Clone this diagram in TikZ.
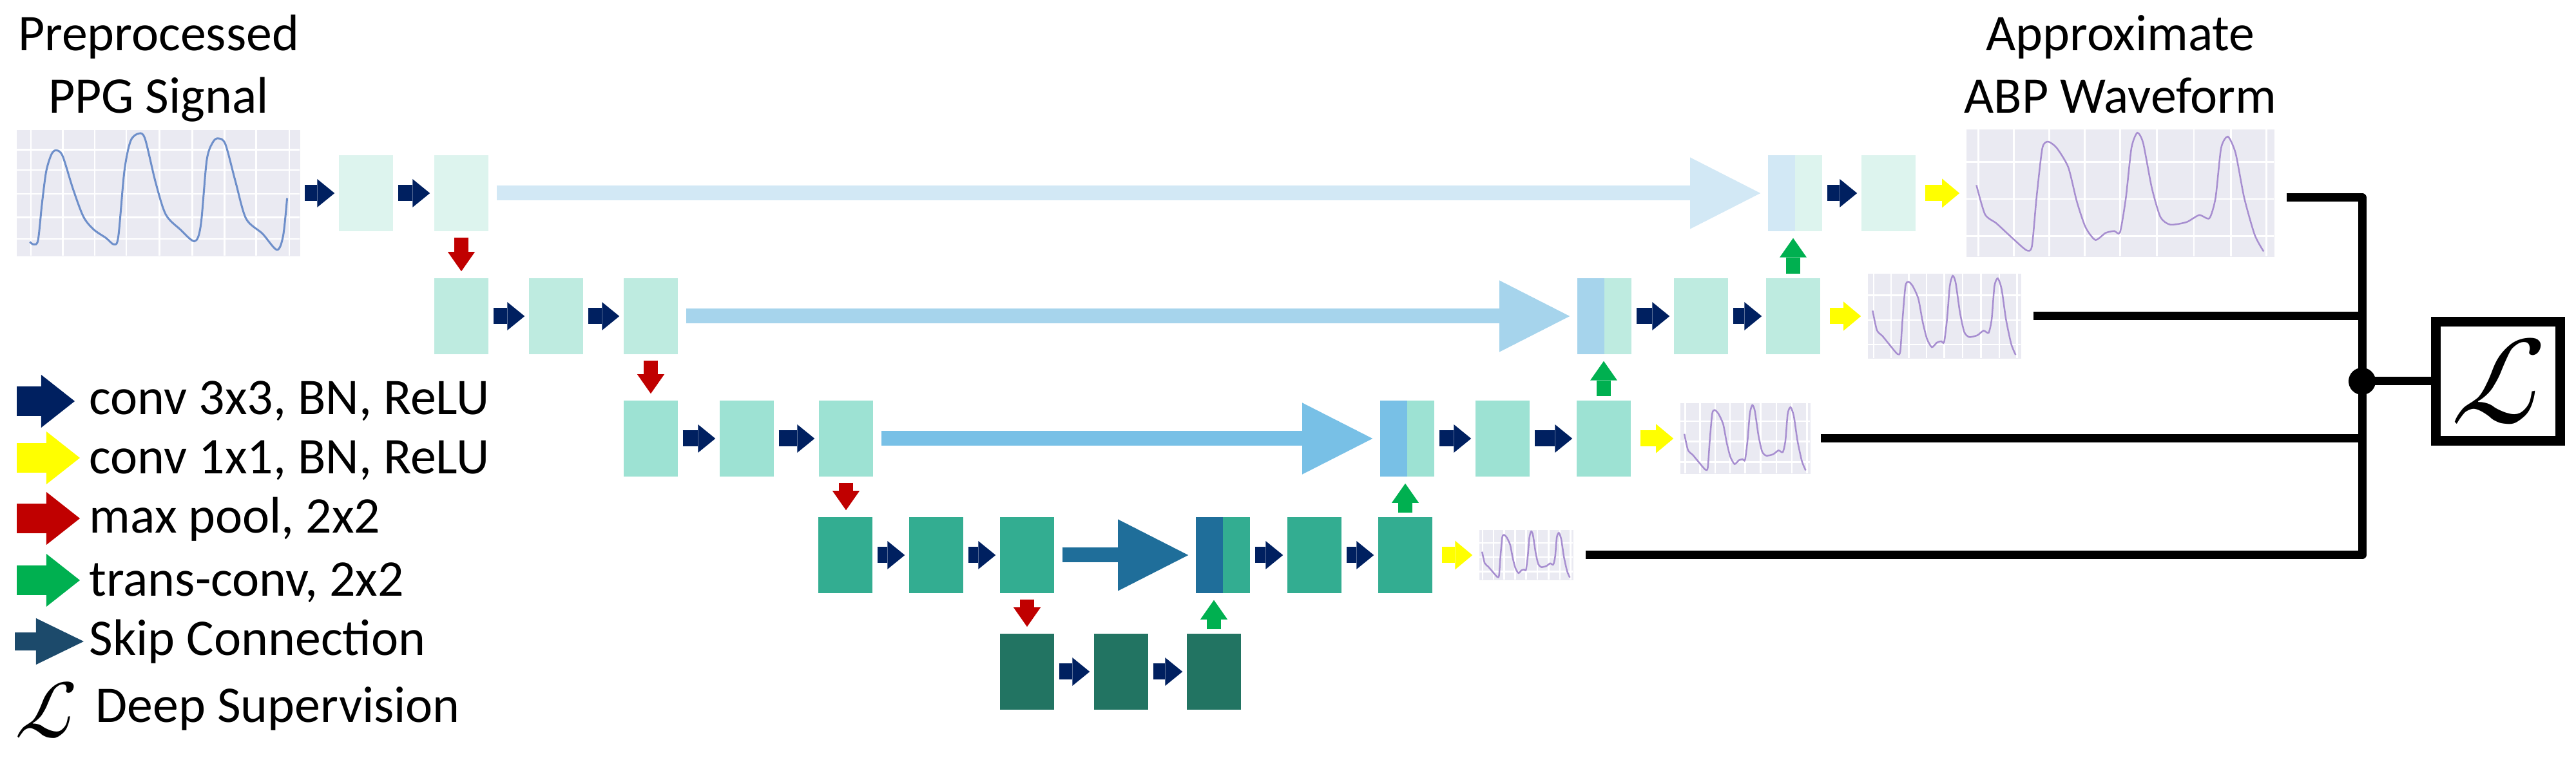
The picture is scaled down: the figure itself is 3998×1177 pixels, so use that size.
\documentclass[tikz,border=0pt]{standalone}
\usepackage{fontspec}
\usepackage{unicode-math}
\setmainfont{Carlito}
\setmathfont{Latin Modern Math}
\usetikzlibrary{arrows.meta}

\definecolor{navyc}{HTML}{002060}
\definecolor{yelc}{HTML}{FFFF00}
\definecolor{redc}{HTML}{C00000}
\definecolor{grnc}{HTML}{00B050}
\definecolor{skipleg}{HTML}{1C4A6B}
\definecolor{lvla}{HTML}{DDF4EE}
\definecolor{lvlb}{HTML}{BEEBE0}
\definecolor{lvlc}{HTML}{9DE2D3}
\definecolor{lvld}{HTML}{33AD91}
\definecolor{lvle}{HTML}{227462}
\definecolor{skipa}{HTML}{D2E8F5}
\definecolor{skipb}{HTML}{A6D4EC}
\definecolor{skipc}{HTML}{78C0E6}
\definecolor{skipd}{HTML}{1F6E9A}
\definecolor{plotc}{HTML}{EAEAF2}
\definecolor{ppgc}{HTML}{6E8FCA}
\definecolor{abpc}{HTML}{A78ED0}

\tikzset{
	blk/.style={fill=#1, minimum width=0.84cm, minimum height=1.18cm, inner sep=0pt},
	catblk/.style 2 args={blk=#2, path picture={\fill[#1] (path picture bounding box.south west) rectangle (path picture bounding box.north);}},
	plotbg/.style 2 args={fill=plotc, minimum width=#1, minimum height=#2, inner sep=0pt},
	conv/.style={draw=navyc, line width=0.25cm, -{Triangle[length=0.27cm,width=0.44cm,line width=0pt]}, shorten <=0.07cm, shorten >=0.06cm},
	convone/.style={draw=yelc, line width=0.25cm, -{Triangle[length=0.27cm,width=0.45cm,line width=0pt]}, shorten <=0.14cm, shorten >=0.1cm},
	pool/.style={draw=redc, line width=0.22cm, -{Triangle[length=0.3cm,width=0.42cm,line width=0pt]}, shorten <=0.09cm, shorten >=0.1cm},
	tconv/.style={draw=grnc, line width=0.22cm, -{Triangle[length=0.3cm,width=0.42cm,line width=0pt]}, shorten <=0.06cm, shorten >=0.1cm},
	skip/.style={draw=#1, line width=0.23cm, -{Triangle[length=1.09cm,width=1.11cm,line width=0pt]}, shorten <=0.12cm, shorten >=0.11cm},
	legarrow/.style={draw=#1, line width=0.46cm, -{Triangle[length=0.52cm,width=0.82cm,line width=0pt]}},
	suplink/.style={line width=0.13cm, line join=round},
	gridln/.style={white, line width=0.025cm},
	ppgwave/.pic={
		\foreach \gx in {0.051,0.163,0.276,0.388,0.505,0.621,0.735,0.847,0.964} \draw[gridln] (\gx,0) -- (\gx,1);
		\foreach \gy in {0.159,0.32,0.509,0.695,0.865} \draw[gridln] (0,\gy) -- (1,\gy);
		\draw[ppgc, line width=0.03cm] plot[smooth, tension=0.5] coordinates {(0.047,0.889) (0.061,0.910) (0.076,0.875) (0.090,0.585) (0.105,0.329) (0.124,0.193) (0.141,0.164) (0.163,0.210) (0.199,0.466) (0.236,0.688) (0.272,0.790) (0.316,0.858) (0.345,0.910) (0.360,0.841) (0.381,0.329) (0.403,0.090) (0.432,0.031) (0.454,0.073) (0.491,0.415) (0.527,0.671) (0.578,0.790) (0.629,0.884) (0.651,0.756) (0.672,0.244) (0.694,0.099) (0.713,0.070) (0.738,0.116) (0.774,0.415) (0.811,0.705) (0.869,0.824) (0.920,0.952) (0.942,0.841) (0.956,0.543)};
	},
	abpwave/.pic={
		\foreach \gx in {0.04,0.155,0.27,0.385,0.5,0.62,0.74,0.86,0.975} \draw[gridln] (\gx,0) -- (\gx,1);
		\foreach \gy in {0.26,0.55,0.84} \draw[gridln] (0,\gy) -- (1,\gy);
		\draw[abpc, line width=0.025cm] plot[smooth, tension=0.4] coordinates {(0.034,0.44) (0.062,0.67) (0.099,0.74) (0.146,0.845) (0.196,0.95) (0.214,0.92) (0.229,0.54) (0.248,0.15) (0.267,0.10) (0.295,0.15) (0.332,0.30) (0.36,0.57) (0.388,0.77) (0.42,0.87) (0.453,0.815) (0.481,0.80) (0.5,0.81) (0.519,0.54) (0.537,0.15) (0.556,0.03) (0.575,0.11) (0.603,0.46) (0.631,0.69) (0.663,0.75) (0.716,0.73) (0.757,0.675) (0.79,0.70) (0.81,0.54) (0.828,0.15) (0.85,0.06) (0.875,0.19) (0.903,0.54) (0.937,0.83) (0.966,0.96)};
	}
}

\begin{document}
\begin{tikzpicture}[x=0.01cm, y=-0.01cm, font=\fontsize{22.7pt}{27.6pt}\selectfont]
	\useasboundingbox (0,0) rectangle (3998,1177);
	% titles
	\node[anchor=base, align=center, inner sep=0pt] (ppgtitle) at (246,176) {Preprocessed\\PPG Signal};
	\node[anchor=base, align=center, inner sep=0pt] (abptitle) at (3291,176) {Approximate\\ABP Waveform};
	% signal plots
	\node[plotbg={4.39cm}{1.96cm}] (ppgin) at (246,300) {};
	\pic[x=4.39cm, y=-1.96cm] at (ppgin.north west) {ppgwave};
	\node[plotbg={4.78cm}{1.98cm}] (abpout) at (3291,300) {};
	\pic[x=4.78cm, y=-1.98cm] at (abpout.north west) {abpwave};
	\node[plotbg={2.38cm}{1.32cm}] (sup2) at (3018,491) {};
	\pic[x=2.38cm, y=-1.32cm] at (sup2.north west) {abpwave};
	\node[plotbg={2.02cm}{1.09cm}] (sup3) at (2709,681) {};
	\pic[x=2.02cm, y=-1.09cm] at (sup3.north west) {abpwave};
	\node[plotbg={1.46cm}{0.77cm}] (sup4) at (2369,862) {};
	\pic[x=1.46cm, y=-0.77cm] at (sup4.north west) {abpwave};
	% encoder
	\node[blk=lvla] (e11) at (568,300) {};
	\node[blk=lvla] (e12) at (716,300) {};
	\node[blk=lvlb] (e21) at (716,491) {};
	\node[blk=lvlb] (e22) at (863,491) {};
	\node[blk=lvlb] (e23) at (1010,491) {};
	\node[blk=lvlc] (e31) at (1010,681) {};
	\node[blk=lvlc] (e32) at (1159,681) {};
	\node[blk=lvlc] (e33) at (1313,681) {};
	\node[blk=lvld] (e41) at (1312,862) {};
	\node[blk=lvld] (e42) at (1453,862) {};
	\node[blk=lvld] (e43) at (1594,862) {};
	% bottleneck
	\node[blk=lvle] (b1) at (1594,1043) {};
	\node[blk=lvle] (b2) at (1740,1043) {};
	\node[blk=lvle] (b3) at (1884,1043) {};
	% decoder
	\node[catblk={skipd}{lvld}] (d4c) at (1898,862) {};
	\node[blk=lvld] (d42) at (2040,862) {};
	\node[blk=lvld] (d43) at (2181,862) {};
	\node[catblk={skipc}{lvlc}] (d3c) at (2184,681) {};
	\node[blk=lvlc] (d32) at (2332,681) {};
	\node[blk=lvlc] (d33) at (2489,681) {};
	\node[catblk={skipb}{lvlb}] (d2c) at (2490,491) {};
	\node[blk=lvlb] (d22) at (2640,491) {};
	\node[blk=lvlb] (d23) at (2783,491) {};
	\node[catblk={skipa}{lvla}] (d1c) at (2786,300) {};
	\node[blk=lvla] (d12) at (2931,300) {};
	% conv 3x3
	\draw[conv] (ppgin) -- (e11);
	\draw[conv] (e11) -- (e12);
	\draw[conv] (e21) -- (e22);
	\draw[conv] (e22) -- (e23);
	\draw[conv] (e31) -- (e32);
	\draw[conv] (e32) -- (e33);
	\draw[conv] (e41) -- (e42);
	\draw[conv] (e42) -- (e43);
	\draw[conv] (b1) -- (b2);
	\draw[conv] (b2) -- (b3);
	\draw[conv] (d4c) -- (d42);
	\draw[conv] (d42) -- (d43);
	\draw[conv] (d3c) -- (d32);
	\draw[conv] (d32) -- (d33);
	\draw[conv] (d2c) -- (d22);
	\draw[conv] (d22) -- (d23);
	\draw[conv] (d1c) -- (d12);
	% max pool
	\draw[pool] (e12.south) -- (e12.south |- e21.north);
	\draw[pool] (e23.south) -- (e23.south |- e31.north);
	\draw[pool] (e33.south) -- (e33.south |- e41.north);
	\draw[pool] (e43.south) -- (e43.south |- b1.north);
	% trans-conv
	\draw[tconv] (b3.north) -- (b3.north |- d4c.south);
	\draw[tconv] (d43.north) -- (d43.north |- d3c.south);
	\draw[tconv] (d33.north) -- (d33.north |- d2c.south);
	\draw[tconv] (d23.north) -- (d23.north |- d1c.south);
	% skip connections
	\draw[skip=skipa] (e12) -- (d1c);
	\draw[skip=skipb] (e23) -- (d2c);
	\draw[skip=skipc] (e33) -- (d3c);
	\draw[skip=skipd] (e43) -- (d4c);
	% conv 1x1
	\draw[convone] (d12) -- (abpout);
	\draw[convone] (d23) -- (sup2);
	\draw[convone] (d33) -- (sup3);
	\draw[convone] (d43) -- (sup4);
	% deep supervision
	\coordinate (jn) at (3666,592);
	\node[draw, line width=0.15cm, minimum width=1.93cm, minimum height=1.85cm, inner sep=0pt, font=\fontsize{55pt}{60pt}\selectfont] (loss) at (3877,592) {$\mathcal{L}$};
	\draw[suplink] ([xshift=0.18cm, yshift=-0.07cm]abpout.east) -| (jn);
	\draw[suplink] ([xshift=0.18cm]sup4.east) -| (jn);
	\draw[suplink] ([xshift=0.18cm]sup2.east) -- (sup2.east -| jn);
	\draw[suplink] ([xshift=0.15cm]sup3.east) -- (sup3.east -| jn);
	\fill (jn) circle (0.21cm);
	\draw[suplink] (jn) -- (loss);
	% legend
	\draw[legarrow=navyc] (26,623) -- (116,623);
	\draw[legarrow=yelc] (26,711) -- (124,711);
	\draw[legarrow=redc] (26,805) -- (124,805);
	\draw[legarrow=grnc] (26,901) -- (124,901);
	\draw[draw=skipleg, line width=0.28cm, -{Triangle[length=0.74cm,width=0.72cm,line width=0pt]}] (23,996) -- (130,996);
	\node[anchor=base west, inner sep=0pt] (legconv) at (138,644) {conv 3x3, BN, ReLU};
	\node[anchor=base west, inner sep=0pt] (legconvone) at (138,736) {conv 1x1, BN, ReLU};
	\node[anchor=base west, inner sep=0pt] (legpool) at (138,828) {max pool, 2x2};
	\node[anchor=base west, inner sep=0pt] (legtconv) at (138,926) {trans-conv, 2x2};
	\node[anchor=base west, inner sep=0pt] (legskip) at (138,1018) {Skip Connection};
	\node[inner sep=0pt, font=\fontsize{36pt}{40pt}\selectfont] (legL) at (71,1103) {$\mathcal{L}$};
	\node[anchor=base west, inner sep=0pt] (legsup) at (148,1122) {Deep Supervision};
\end{tikzpicture}
\end{document}
